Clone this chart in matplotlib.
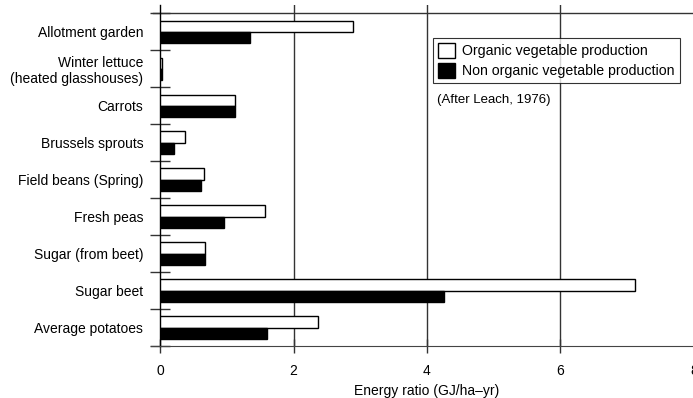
import matplotlib.pyplot as plt
import numpy as np

plt.rcParams['font.family'] = ['Liberation Sans', 'DejaVu Sans']

categories = ["Allotment garden", "Winter lettuce\n(heated glasshouses)", "Carrots",
              "Brussels sprouts", "Field beans (Spring)", "Fresh peas",
              "Sugar (from beet)", "Sugar beet", "Average potatoes"]
organic = [2.89, 0.035, 1.13, 0.38, 0.66, 1.57, 0.67, 7.11, 2.37]
non_organic = [1.35, 0.03, 1.12, 0.21, 0.62, 0.96, 0.68, 4.26, 1.61]
xticks = [0, 2, 4, 6, 8]

fig = plt.figure(figsize=(6.93, 3.98), dpi=100)
# axes: x from 160px to 694px, y from 5px to 346px
ax = fig.add_axes([160 / 693, 1 - 346 / 398, 534 / 693, 341 / 398])

y = np.arange(len(categories))
h = 0.3
ax.barh(y - h / 2, organic, height=h, color='white', edgecolor='black', linewidth=1, label="Organic vegetable production", zorder=3)
ax.barh(y + h / 2, non_organic, height=h, color='black', edgecolor='black', linewidth=1, label="Non organic vegetable production", zorder=3)

ax.set_xlim(0, 8)
ax.set_ylim(8.5, -0.72)

for x in [2, 4, 6]:
    ax.axvline(x, color='#333333', linewidth=1, zorder=1)
ax.axhline(-0.5, xmin=-7 / 534, xmax=1, color='#333333', linewidth=1, clip_on=False, zorder=2)

ax.spines['top'].set_visible(False)
ax.spines['right'].set_visible(False)
ax.spines['bottom'].set_color('#444444')
ax.spines['bottom'].set_bounds(-0.13, 8)
ax.spines['bottom'].set_position(('data', 8.5))
ax.spines['left'].set_linewidth(1)

ax.set_xticks(xticks)
ax.set_xticklabels([str(t) for t in xticks], fontsize=10)
ax.tick_params(axis='x', direction='inout', length=10, width=1, pad=8, color='#333333')

ax.set_yticks(y)
ax.set_yticklabels(categories, fontsize=10)
ax.tick_params(axis='y', which='major', length=0, pad=12)
ax.set_yticks(np.arange(-0.5, 9, 1), minor=True)
ax.tick_params(axis='y', which='minor', direction='inout', length=15, width=1, color='#333333')

ax.set_xlabel("Energy ratio (GJ/ha–yr)", fontsize=10, labelpad=4)

leg = ax.legend(loc='upper left', bbox_to_anchor=((433 - 160) / 534, (346 - 38) / 341),
                fontsize=10.2, frameon=True, fancybox=False, edgecolor='black',
                handlelength=1.2, handleheight=1.3, handletextpad=0.5,
                borderpad=0.35, labelspacing=0.3, borderaxespad=0)
leg.get_frame().set_linewidth(0.8)

ax.text((437 - 160) / 534 * 8, 1.85, "(After Leach, 1976)", fontsize=9.5, va='center', ha='left')

fig.savefig("out.png", dpi=100)
